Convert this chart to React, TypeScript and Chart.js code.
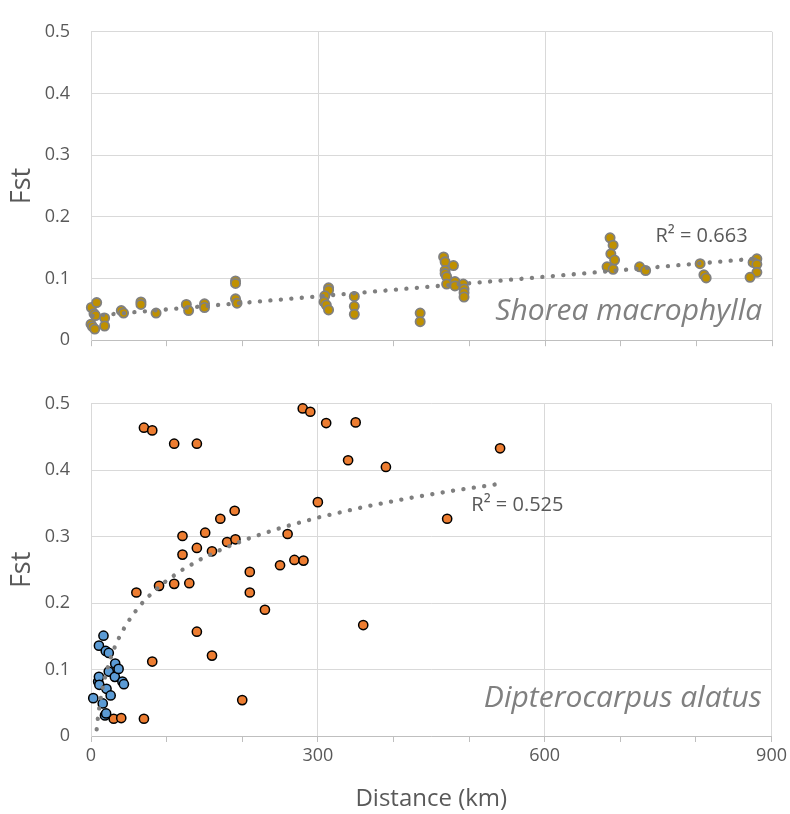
import React, { useEffect, useRef } from 'react';
import { Chart, registerables } from 'chart.js';

Chart.register(...registerables);

// ---------- data ----------
const X_MIN = 0;
const X_MAX = 900;
const X_STEP = 100;
const X_LABEL_EVERY = 300;
const Y_MIN = 0;
const Y_MAX = 0.5;
const Y_STEP = 0.1;

// Shorea macrophylla
const shoreaDist = [
  0.5, 7.5, 4, 6, 0, 2, 5, 18, 18, 40, 43, 66, 66, 86, 126, 129, 150, 150,
  191, 191, 191, 193, 314, 314, 309, 308, 311, 314, 348, 348, 348, 435, 435,
  466, 468, 479, 468, 468, 470, 470, 481, 481, 492, 493, 493, 493,
  686, 690, 687, 692, 682, 690, 725, 733, 805, 810, 813, 880, 875, 880, 880, 871,
];
const shoreaFst = [
  0.053, 0.061, 0.043, 0.04, 0.026, 0.022, 0.018, 0.036, 0.023, 0.048, 0.044, 0.062, 0.058, 0.044, 0.058, 0.048, 0.059, 0.053,
  0.096, 0.092, 0.067, 0.06, 0.085, 0.081, 0.072, 0.062, 0.057, 0.049, 0.071, 0.055, 0.042, 0.044, 0.03,
  0.135, 0.127, 0.121, 0.113, 0.108, 0.103, 0.091, 0.095, 0.088, 0.091, 0.083, 0.077, 0.07,
  0.166, 0.154, 0.14, 0.13, 0.119, 0.115, 0.119, 0.113, 0.124, 0.106, 0.101, 0.132, 0.126, 0.123, 0.11, 0.102,
];
const shoreaTrendIntercept = 0.0393;
const shoreaTrendSlope = 0.000106;
const shoreaTrendDist = [2, 880];
const shoreaR2 = 'R² = 0.663';

// Dipterocarpus alatus (orange)
const alatusOrangeDist = [
  70, 81, 110, 140, 280, 290, 311, 350, 340, 390, 300, 190, 171, 121, 151, 260,
  140, 160, 180, 191, 121, 269, 281, 250, 210, 210, 90, 110, 130, 60, 230, 140,
  360, 160, 81, 200, 30, 40, 70, 541, 471,
];
const alatusOrangeFst = [
  0.464, 0.46, 0.44, 0.44, 0.493, 0.488, 0.471, 0.472, 0.415, 0.405, 0.352, 0.339, 0.327, 0.301, 0.306, 0.304,
  0.283, 0.278, 0.292, 0.296, 0.273, 0.265, 0.264, 0.257, 0.247, 0.216, 0.226, 0.229, 0.23, 0.216, 0.19, 0.157,
  0.167, 0.121, 0.112, 0.054, 0.026, 0.027, 0.026, 0.433, 0.327,
];
// Dipterocarpus alatus (blue)
const alatusBlueDist = [
  3, 9.5, 10.5, 10.5, 11, 15.5, 16.5, 18.5, 19.5, 20.5, 23.5, 23.5, 26, 31.5, 32, 36.5, 41.5, 43.5, 20,
];
const alatusBlueFst = [
  0.057, 0.082, 0.089, 0.136, 0.077, 0.049, 0.151, 0.031, 0.128, 0.071, 0.125, 0.097, 0.061, 0.089, 0.109, 0.101, 0.082, 0.078, 0.034,
];
const alatusTrendA = -0.164;
const alatusTrendB = 0.0864;
const alatusTrendDist = [7.5, 9, 11, 13, 16, 20, 25, 31, 38, 46, 56, 68, 82, 100, 120, 145, 175, 210, 250, 300, 360, 420, 480, 540];
const alatusR2 = 'R² = 0.525';

// ---------- styling ----------
const FONT = "'Open Sans', sans-serif";
const TEXT = '#595959';
const GRID = '#d9d9d9';
const AXIS = '#bfbfbf';

const pts = (xs: number[], ys: number[]) => xs.map((x, i) => ({ x, y: ys[i] }));

type Annot = { text: string; x: number; y: number; font: string; color: string; align: CanvasTextAlign; baseline: CanvasTextBaseline };

const annotPlugin = (items: Annot[]) => ({
  id: 'annot',
  afterDatasetsDraw(chart: any) {
    const { ctx, scales } = chart;
    items.forEach((it) => {
      ctx.save();
      ctx.font = it.font;
      ctx.fillStyle = it.color;
      ctx.textAlign = it.align;
      ctx.textBaseline = it.baseline;
      ctx.fillText(it.text, scales.x.getPixelForValue(it.x), scales.y.getPixelForValue(it.y));
      ctx.restore();
    });
  },
});

function makeOptions(showX: boolean, xHeight: number, padTop: number): any {
  return {
    responsive: false,
    animation: false,
    events: [],
    layout: { padding: { top: padTop, right: 18, bottom: 0, left: 0 } },
    plugins: { legend: { display: false }, tooltip: { enabled: false } },
    scales: {
      x: {
        type: 'linear',
        min: X_MIN,
        max: X_MAX,
        ticks: {
          display: showX,
          stepSize: X_STEP,
          autoSkip: false,
          maxRotation: 0,
          padding: 3,
          color: TEXT,
          font: { family: FONT, size: 18 },
          callback: (v: number) => (v % X_LABEL_EVERY === 0 ? String(v) : ''),
        },
        grid: {
          color: (c: any) => (c.tick && c.tick.value % X_LABEL_EVERY === 0 ? GRID : 'rgba(0,0,0,0)'),
          tickColor: AXIS,
          tickLength: 6,
          drawTicks: true,
        },
        border: { color: AXIS },
        title: {
          display: showX,
          text: 'Distance (km)',
          color: TEXT,
          font: { family: FONT, size: 24 },
          padding: { top: 0, bottom: 0 },
        },
        afterFit: (s: any) => {
          s.height = xHeight;
        },
      },
      y: {
        min: Y_MIN,
        max: Y_MAX,
        ticks: {
          stepSize: Y_STEP,
          padding: 21,
          color: TEXT,
          font: { family: FONT, size: 18 },
          callback: (v: number) => (v === 0 ? '0' : Number(v).toFixed(1)),
        },
        grid: { color: GRID, drawTicks: false },
        border: { color: GRID },
        title: {
          display: true,
          text: 'Fst',
          color: TEXT,
          font: { family: FONT, size: 27 },
          padding: { top: 6, bottom: 0 },
        },
        afterFit: (s: any) => {
          s.width = 91;
        },
      },
    },
  };
}

const trendStyle = {
  showLine: true,
  pointRadius: 0,
  borderColor: '#7f7f7f',
  borderWidth: 4.3,
  borderDash: [0.1, 10.4],
  borderCapStyle: 'round',
  fill: false,
  clip: false,
};

export default function App() {
  const topRef = useRef<HTMLCanvasElement>(null);
  const botRef = useRef<HTMLCanvasElement>(null);

  useEffect(() => {
    const top = new Chart(topRef.current as HTMLCanvasElement, {
      type: 'scatter',
      data: {
        datasets: [
          {
            ...trendStyle,
            order: 0,
            data: shoreaTrendDist.map((x) => ({ x, y: shoreaTrendIntercept + shoreaTrendSlope * x })),
          } as any,
          {
            order: 1,
            data: pts(shoreaDist, shoreaFst),
            pointRadius: 4.6,
            pointBackgroundColor: '#BF9000',
            pointBorderColor: '#808080',
            pointBorderWidth: 1.8,
            clip: false,
          } as any,
        ],
      },
      options: makeOptions(false, 9.5, 21),
      plugins: [
        annotPlugin([
          { text: shoreaR2, x: 746, y: 0.169, font: `20px ${FONT}`, color: TEXT, align: 'left', baseline: 'middle' },
          { text: 'Shorea macrophylla', x: 887, y: 0.033, font: `italic 30px ${FONT}`, color: '#808080', align: 'right', baseline: 'alphabetic' },
        ]),
      ],
    });

    const bot = new Chart(botRef.current as HTMLCanvasElement, {
      type: 'scatter',
      data: {
        datasets: [
          {
            ...trendStyle,
            order: 0,
            data: alatusTrendDist.map((x) => ({ x, y: alatusTrendA + alatusTrendB * Math.log(x) })),
          } as any,
          {
            order: 1,
            data: pts(alatusBlueDist, alatusBlueFst),
            pointRadius: 4.6,
            pointBackgroundColor: '#5B9BD5',
            pointBorderColor: '#000000',
            pointBorderWidth: 1.5,
            clip: false,
          } as any,
          {
            order: 2,
            data: pts(alatusOrangeDist, alatusOrangeFst),
            pointRadius: 4.6,
            pointBackgroundColor: '#ED7D31',
            pointBorderColor: '#000000',
            pointBorderWidth: 1.5,
            clip: false,
          } as any,
        ],
      },
      options: makeOptions(true, 78, 22),
      plugins: [
        annotPlugin([
          { text: alatusR2, x: 503, y: 0.3465, font: `20px ${FONT}`, color: TEXT, align: 'left', baseline: 'middle' },
          { text: 'Dipterocarpus alatus', x: 887, y: 0.044, font: `italic 30px ${FONT}`, color: '#808080', align: 'right', baseline: 'alphabetic' },
        ]),
      ],
    });

    return () => {
      top.destroy();
      bot.destroy();
    };
  }, []);

  return (
    <div style={{ position: 'absolute', left: 0, top: 0, width: 790, height: 814, background: '#fff' }}>
      <canvas ref={topRef} width={790} height={372} style={{ position: 'absolute', left: 0, top: 0, display: 'block' }} />
      <canvas ref={botRef} width={790} height={442} style={{ position: 'absolute', left: 0, top: 372, display: 'block' }} />
    </div>
  );
}
